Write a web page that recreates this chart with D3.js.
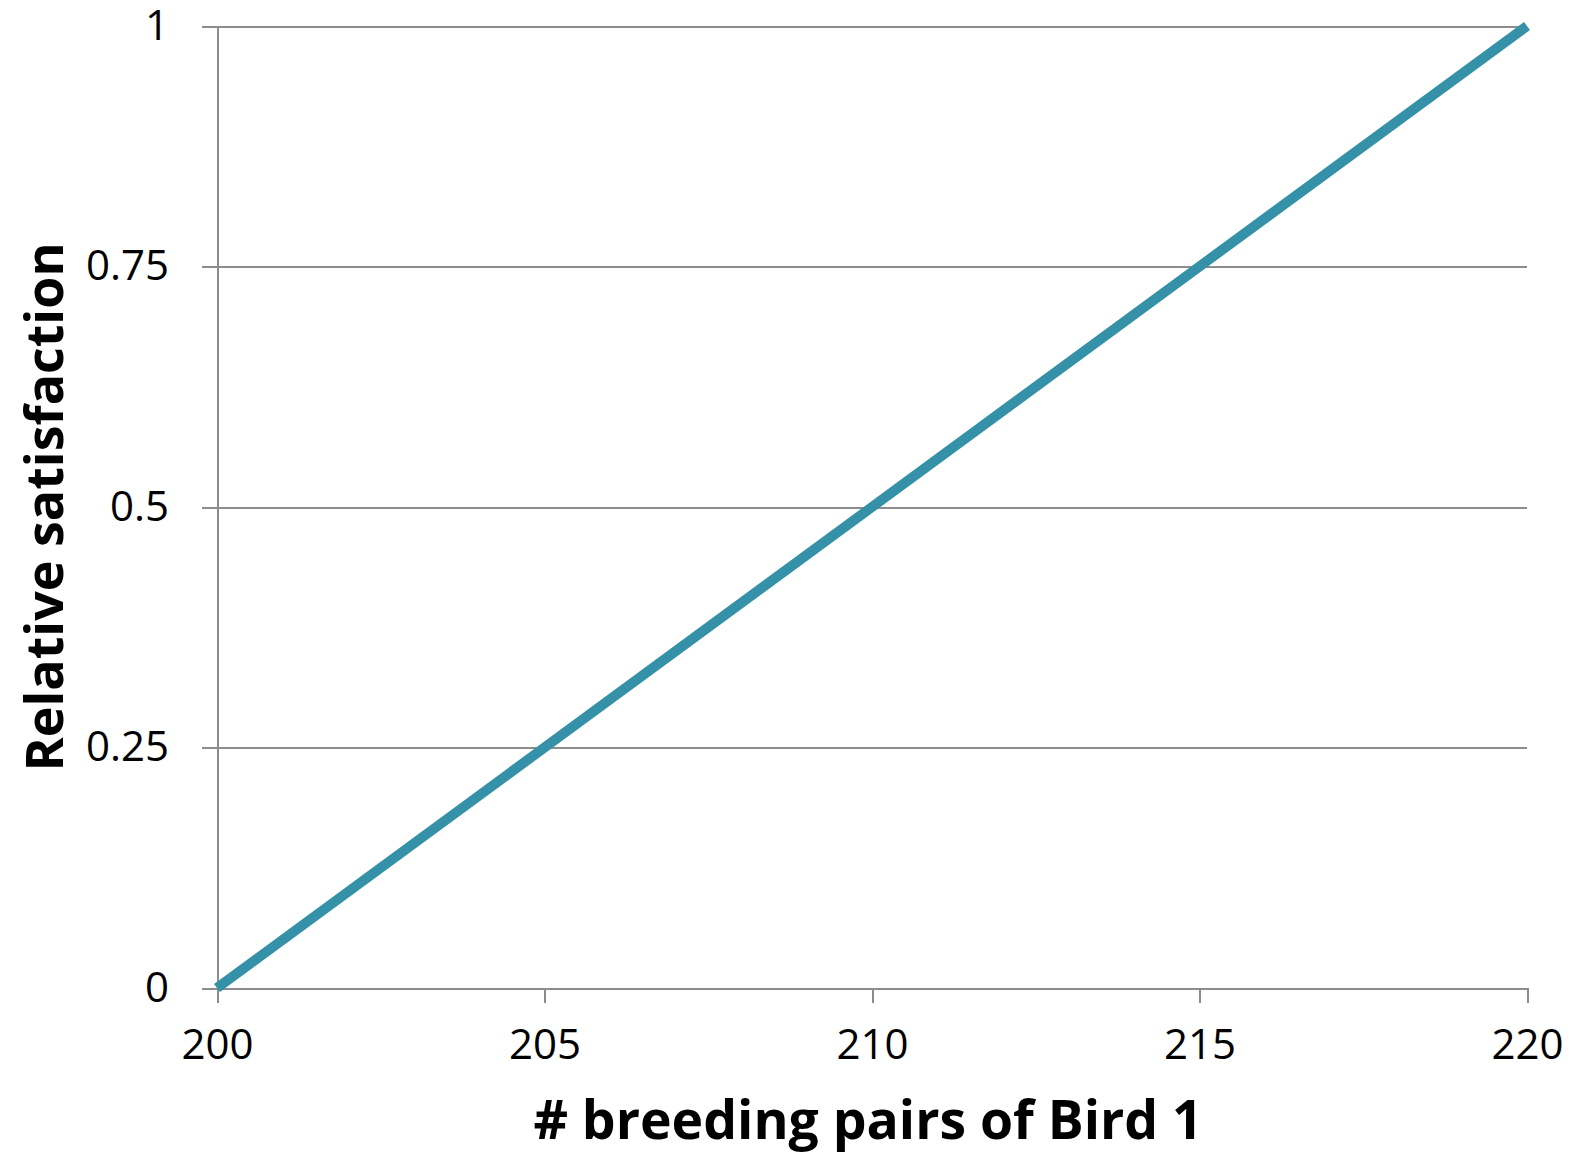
<!DOCTYPE html>
<html lang="en">
<head>
	<meta charset="UTF-8">
	<title>Relative satisfaction</title>
	<style type="text/css">
		body{
			margin: 0;
			background: #fff;
			font-family: "Open Sans", sans-serif;
		}
		.axis text {
			font-size: 42px;
			fill: #000;
			font-family: "Open Sans", sans-serif;
		}
		.axis path, .axis line, .grid line {
			fill: none;
			stroke: #8c8c8c;
			stroke-width: 2px;
			shape-rendering: crispEdges;
		}
		.grid .domain { display: none; }
		.label {
			font-size: 52px;
			font-weight: bold;
			fill: #000;
		}
	</style>
	<script src="https://d3js.org/d3.v7.min.js"></script>
</head>
<body>
<script type="text/javascript">
	// data
	var breedingPairs = [200, 205, 210, 215, 220];
	var satisfaction = [0, 0.25, 0.5, 0.75, 1];
	var xTicks = [200, 205, 210, 215, 220];
	var yTicks = [0, 0.25, 0.5, 0.75, 1];

	var fullWidth = 1577, fullHeight = 1163;
	var margin = {top: 26, right: 50, bottom: 175, left: 217};
	var width = fullWidth - margin.left - margin.right;
	var height = fullHeight - margin.top - margin.bottom;

	var svg = d3.select('body').append('svg')
		.attr('width', fullWidth)
		.attr('height', fullHeight)
	  .append('g')
		.attr('transform', 'translate(' + margin.left + ',' + margin.top + ')');

	var xScale = d3.scaleLinear().domain([200, 220]).range([0, width]);
	var yScale = d3.scaleLinear().domain([0, 1]).range([height, 0]);

	// horizontal gridlines
	svg.append('g')
		.attr('class', 'grid')
		.call(d3.axisLeft(yScale).tickValues(yTicks).tickSize(-width).tickFormat(''));

	// axes
	svg.append('g')
		.attr('class', 'x axis')
		.attr('transform', 'translate(0,' + height + ')')
		.call(d3.axisBottom(xScale).tickValues(xTicks).tickSize(15).tickSizeOuter(15).tickPadding(26).tickFormat(d3.format('d')));

	svg.append('g')
		.attr('class', 'y axis')
		.call(d3.axisLeft(yScale).tickValues(yTicks).tickSize(15).tickSizeOuter(0).tickPadding(33).tickFormat(function(d){ return String(d); }));

	// the line
	var line = d3.line()
		.x(function(d, i){ return xScale(breedingPairs[i]); })
		.y(function(d){ return yScale(d); });

	svg.append('path')
		.datum(satisfaction)
		.attr('d', line)
		.attr('fill', 'none')
		.attr('stroke', '#3591a7')
		.attr('stroke-width', 10);

	// axis labels
	svg.append('text')
		.attr('class', 'label')
		.style('font-size', '53.5px')
		.attr('x', 868 - margin.left)
		.attr('y', 1139 - margin.top)
		.attr('text-anchor', 'middle')
		.text('# breeding pairs of Bird 1');

	svg.append('text')
		.attr('class', 'label')
		.attr('transform', 'translate(' + (63 - margin.left) + ',' + (507 - margin.top) + ') rotate(-90)')
		.attr('text-anchor', 'middle')
		.text('Relative satisfaction');
</script>
</body>
</html>
